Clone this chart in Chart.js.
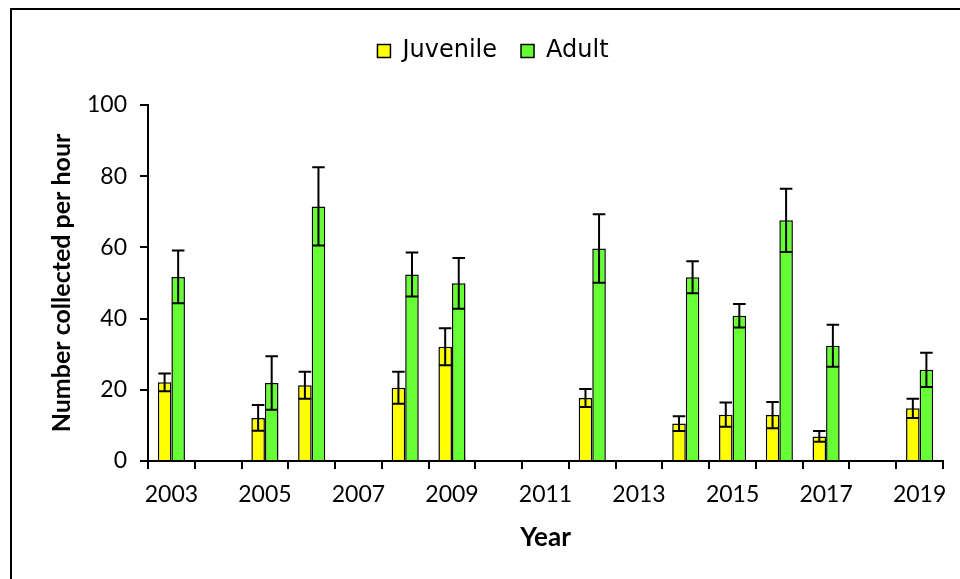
<!DOCTYPE html>
<html>
<head>
<meta charset="utf-8">
<script src="https://cdn.jsdelivr.net/npm/chart.js@4/dist/chart.umd.min.js"></script>
<style>
  html, body { margin: 0; padding: 0; background: #fff; overflow: hidden; }
  #wrap { position: relative; width: 960px; height: 579px; }
  #frame { position: absolute; left: 10px; top: 8px; width: 1000px; height: 1000px; border: 2px solid #000; box-sizing: border-box; }
  canvas { position: absolute; left: 0; top: 0; }
</style>
</head>
<body>
<div id="wrap">
  <div id="frame"></div>
  <canvas id="c" width="960" height="579"></canvas>
</div>
<script>
const years = ['2003','2004','2005','2006','2007','2008','2009','2010','2011','2012','2013','2014','2015','2016','2017','2018','2019'];
const juvenile    = [22.1, null, 12.1, 21.3, null, 20.6, 32.1, null, null, 17.7, null, 10.5, 13.0, 12.9, 6.9, null, 14.8];
const juvenileErr = [2.5,  null, 3.6,  3.8,  null, 4.5,  5.2,  null, null, 2.5,  null, 2.1,  3.4,  3.7,  1.5, null, 2.7];
const adult       = [51.7, null, 21.9, 71.5, null, 52.4, 49.9, null, null, 59.7, null, 51.6, 40.8, 67.6, 32.4, null, 25.6];
const adultErr    = [7.4,  null, 7.5,  11.0, null, 6.2,  7.1,  null, null, 9.6,  null, 4.5,  3.3,  8.9,  5.9, null, 4.8];
const yTicks = [0, 20, 40, 60, 80, 100];

const errorBars = {
  id: 'errorBars',
  afterDatasetsDraw(chart) {
    const ctx = chart.ctx;
    const ys = chart.scales.y;
    chart.data.datasets.forEach((ds, di) => {
      const meta = chart.getDatasetMeta(di);
      meta.data.forEach((bar, i) => {
        const v = ds.data[i], e = ds.errors[i];
        if (v == null || e == null) return;
        const x = bar.x, half = bar.width / 2 - 0.5;
        const yt = ys.getPixelForValue(v + e);
        const yb = ys.getPixelForValue(v - e);
        ctx.save();
        ctx.strokeStyle = '#000';
        ctx.lineWidth = 2;
        ctx.beginPath();
        ctx.moveTo(x, yt); ctx.lineTo(x, yb);
        ctx.moveTo(x - half, yt); ctx.lineTo(x + half, yt);
        ctx.moveTo(x - half, yb); ctx.lineTo(x + half, yb);
        ctx.stroke();
        ctx.restore();
      });
    });
  }
};

const PAD_L = 43, PAD_R = 17, PAD_T = 15, PAD_B = 22;

new Chart(document.getElementById('c'), {
  type: 'bar',
  data: {
    labels: years,
    datasets: [
      { label: 'Juvenile', data: juvenile, errors: juvenileErr, backgroundColor: '#FFFF00', borderColor: '#000', borderWidth: 1.5 },
      { label: 'Adult', data: adult, errors: adultErr, backgroundColor: '#66FF33', borderColor: '#000', borderWidth: 1.5 }
    ]
  },
  options: {
    responsive: false,
    animation: false,
    devicePixelRatio: 1,
    layout: { padding: { left: PAD_L, right: PAD_R, top: PAD_T, bottom: PAD_B } },
    datasets: { bar: { categoryPercentage: 0.58, barPercentage: 1.0 } },
    plugins: {
      legend: {
        position: 'top',
        labels: {
          color: '#000',
          font: { family: 'DejaVu Sans', size: 24, lineHeight: 1.2 },
          boxWidth: 13, boxHeight: 13, padding: 24
        }
      },
      subtitle: { display: true, text: ' ', padding: 0, weight: 100, font: { size: 32, lineHeight: 1 } },
      tooltip: { enabled: false }
    },
    scales: {
      x: {
        afterFit(s) { s.height = 579 - PAD_B - 461; },
        grid: { display: true, drawOnChartArea: false, offset: true, color: '#000', lineWidth: 2, tickLength: 8 },
        border: { color: '#000', width: 2 },
        ticks: {
          autoSkip: false, maxRotation: 0, color: '#000', padding: 12,
          font: { family: 'Lato', size: 23 },
          callback(val, idx) { return idx % 2 === 0 ? this.getLabelForValue(val) : ''; }
        },
        title: { display: true, text: 'Year', color: '#000', font: { family: 'Lato', size: 26, weight: 'bold' }, padding: { top: 4, bottom: 4 } }
      },
      y: {
        min: 0, max: 100,
        afterFit(s) { s.width = 148 - PAD_L; },
        afterBuildTicks(s) { s.ticks = yTicks.map(v => ({ value: v })); },
        grid: { display: true, drawOnChartArea: false, color: '#000', lineWidth: 2, tickLength: 8 },
        border: { color: '#000', width: 2 },
        ticks: { color: '#000', padding: 13, font: { family: 'Lato', size: 23 } },
        title: { display: true, text: 'Number collected per hour', color: '#000', font: { family: 'Lato', size: 25, weight: 'bold' }, padding: { top: 4, bottom: 4 } }
      }
    }
  },
  plugins: [errorBars]
});
</script>
</body>
</html>
